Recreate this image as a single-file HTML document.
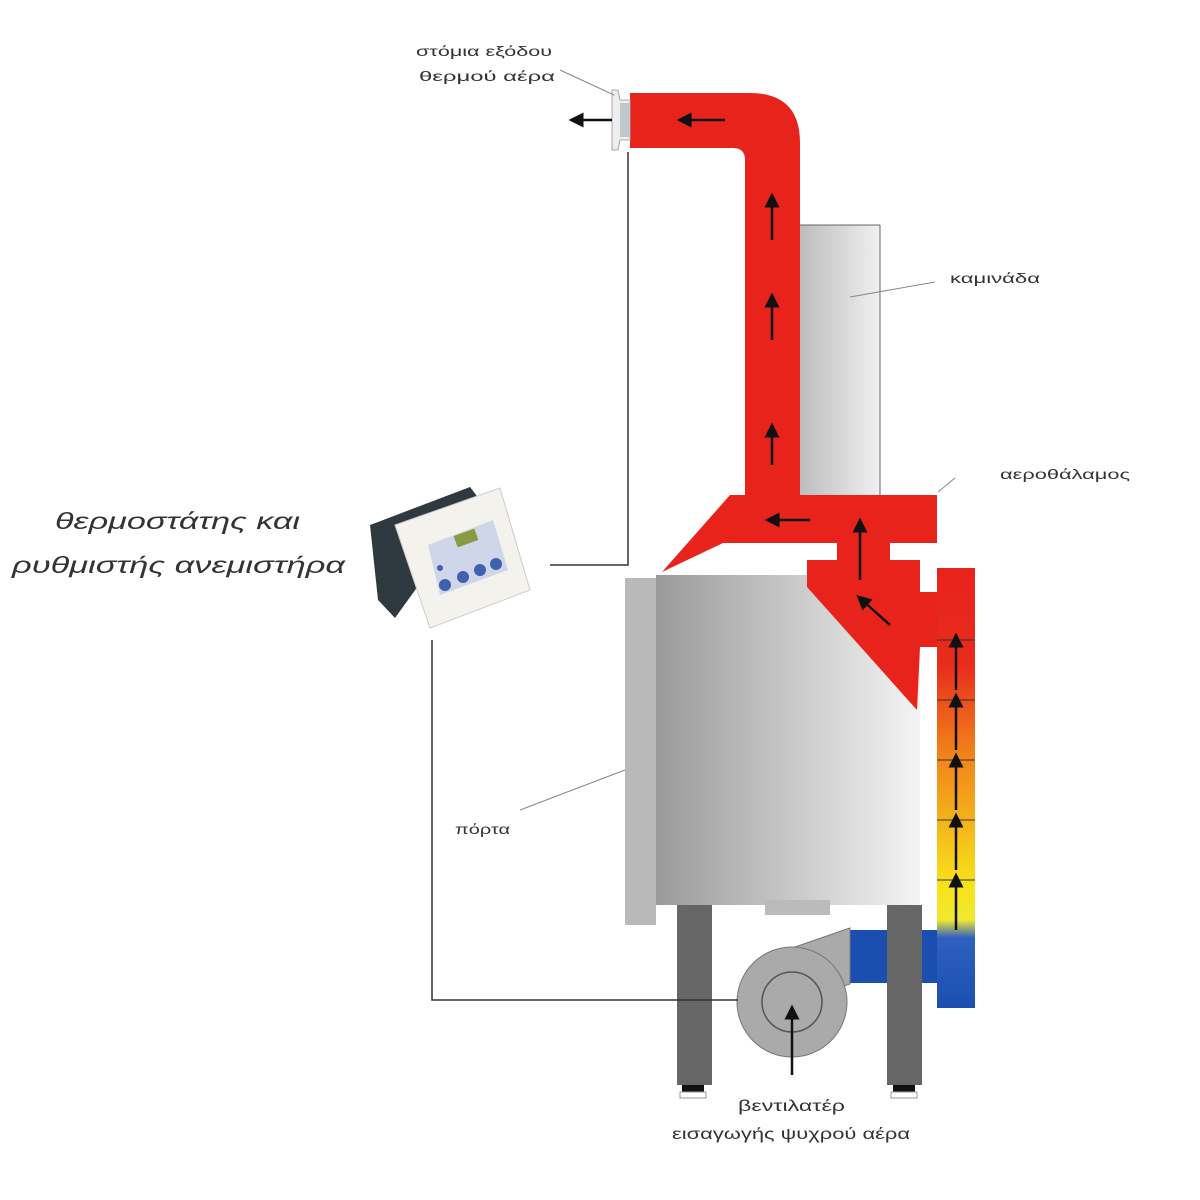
<!DOCTYPE html>
<html><head><meta charset="utf-8"><style>
html,body{margin:0;padding:0;background:#fff;}
svg{display:block}
text{font-family:"Liberation Sans","DejaVu Sans",sans-serif;fill:#333}
</style></head><body>
<svg width="1200" height="1200" viewBox="0 0 1200 1200" xmlns="http://www.w3.org/2000/svg">
<defs>
<linearGradient id="body" x1="0" x2="1" y1="0" y2="0">
<stop offset="0" stop-color="#9a9a9a"/><stop offset="0.6" stop-color="#d0d0d0"/><stop offset="1" stop-color="#f4f4f4"/></linearGradient>
<linearGradient id="chim" x1="0" x2="1" y1="0" y2="0">
<stop offset="0" stop-color="#bdbdbd"/><stop offset="1" stop-color="#f0f0f0"/></linearGradient>
<linearGradient id="pipe" x1="0" x2="0" y1="0" y2="1">
<stop offset="0" stop-color="#e8231c"/><stop offset="0.22" stop-color="#e82c1c"/><stop offset="0.4" stop-color="#f07a1a"/><stop offset="0.72" stop-color="#f8e21a"/><stop offset="0.8" stop-color="#f0e830"/><stop offset="0.84" stop-color="#3060c0"/><stop offset="1" stop-color="#1a4fb0"/></linearGradient>
<marker id="ah" markerWidth="6" markerHeight="6" refX="3" refY="3" orient="auto"><path d="M0,0 L6,3 L0,6 z" fill="#111"/></marker>
</defs>

<rect x="800" y="225" width="80" height="275" fill="url(#chim)"/>
<line x1="800" y1="225" x2="880" y2="225" stroke="#666" stroke-width="1"/>
<line x1="880" y1="225" x2="880" y2="500" stroke="#666" stroke-width="1"/>

<rect x="656" y="575" width="264" height="330" fill="url(#body)"/>
<rect x="625" y="578" width="31" height="347" fill="#b9b9b9"/>
<rect x="765" y="900" width="65" height="15" fill="#bbb"/>

<rect x="850" y="930" width="90" height="53" fill="#1a4fb0"/>

<rect x="677" y="905" width="35" height="180" fill="#666"/>
<rect x="887" y="905" width="35" height="180" fill="#666"/>
<rect x="682" y="1085" width="22" height="7" fill="#111"/>
<rect x="680" y="1092" width="26" height="6" fill="#fff" stroke="#999"/>
<rect x="893" y="1085" width="22" height="7" fill="#111"/>
<rect x="891" y="1092" width="26" height="6" fill="#fff" stroke="#999"/>

<polygon points="792,948 850,928 850,984 800,1000" fill="#aaa" stroke="#777"/>
<circle cx="792" cy="1002" r="55" fill="#aaa" stroke="#777"/>
<circle cx="792" cy="1002" r="30" fill="none" stroke="#555" stroke-width="1.5"/>
<line x1="792" y1="1075" x2="792" y2="1012" stroke="#111" stroke-width="2.5" marker-end="url(#ah)"/>

<rect x="937" y="568" width="38" height="440" fill="url(#pipe)"/>
<g stroke="#333" stroke-width="1">
<line x1="937" y1="640" x2="975" y2="640"/><line x1="937" y1="700" x2="975" y2="700"/>
<line x1="937" y1="760" x2="975" y2="760"/><line x1="937" y1="820" x2="975" y2="820"/>
<line x1="937" y1="880" x2="975" y2="880"/>
</g>
<g stroke="#111" stroke-width="2.5">
<line x1="956" y1="930" x2="956" y2="880" marker-end="url(#ah)"/>
<line x1="956" y1="870" x2="956" y2="820" marker-end="url(#ah)"/>
<line x1="956" y1="810" x2="956" y2="760" marker-end="url(#ah)"/>
<line x1="956" y1="750" x2="956" y2="700" marker-end="url(#ah)"/>
<line x1="956" y1="690" x2="956" y2="640" marker-end="url(#ah)"/>
</g>

<polygon fill="#e8231c" points="730,495 937,495 937,543 890,543 890,560 920,560 920,592 937,592 937,647 920,647 917,710 807,587 807,560 837,560 837,543 723,543 662,572"/>

<path d="M630,93 L750,93 Q800,93 800,143 L800,500 L745,500 L745,160 Q745,148 733,148 L630,148 Z" fill="#e8231c"/>
<path d="M612,90 L618,90 L620,100 L630,100 L630,140 L620,140 L618,150 L612,150 Z" fill="#eee" stroke="#aaa"/>
<rect x="620" y="103" width="10" height="34" fill="#bfc8cc"/>

<g stroke="#111" stroke-width="2.5">
<line x1="725" y1="120" x2="684" y2="120" marker-end="url(#ah)"/>
<line x1="612" y1="120" x2="576" y2="120" marker-end="url(#ah)"/>
<line x1="772" y1="240" x2="772" y2="200" marker-end="url(#ah)"/>
<line x1="772" y1="340" x2="772" y2="300" marker-end="url(#ah)"/>
<line x1="772" y1="465" x2="772" y2="430" marker-end="url(#ah)"/>
<line x1="810" y1="520" x2="772" y2="520" marker-end="url(#ah)"/>
<line x1="860" y1="580" x2="860" y2="525" marker-end="url(#ah)"/>
<line x1="890" y1="625" x2="862" y2="600" marker-end="url(#ah)"/>
</g>

<polyline points="550,565 628,565 628,152" fill="none" stroke="#333" stroke-width="1.5"/>
<polyline points="432,640 432,1000 738,1000" fill="none" stroke="#333" stroke-width="1.5"/>

<g stroke="#888" stroke-width="1">
<line x1="560" y1="70" x2="614" y2="95"/>
<line x1="850" y1="297" x2="935" y2="282"/>
<line x1="938" y1="492" x2="955" y2="478"/>
<line x1="520" y1="810" x2="625" y2="770"/>
</g>

<polygon points="370,525 470,487 480,500 395,618 378,600" fill="#2e3a40"/>
<polygon points="395,525 500,488 530,590 430,628" fill="#f4f2ec" stroke="#ccc"/>
<polygon points="428,545 493,520 508,570 440,595" fill="#cfd6ea"/>
<rect x="455" y="532" width="22" height="12" fill="#8a9a40" transform="rotate(-20 466 538)"/>
<g fill="#4060b0">
<circle cx="445" cy="585" r="6"/><circle cx="463" cy="577" r="6"/><circle cx="480" cy="570" r="6"/><circle cx="496" cy="564" r="6"/>
<circle cx="440" cy="568" r="3"/>
</g>

<g font-size="14" lengthAdjust="spacingAndGlyphs">
<text x="416" y="56" textLength="136" lengthAdjust="spacingAndGlyphs">στόμια εξόδου</text>
<text x="419" y="81" textLength="136" lengthAdjust="spacingAndGlyphs">θερμού αέρα</text>
<text x="950" y="283" textLength="90" lengthAdjust="spacingAndGlyphs">καμινάδα</text>
<text x="1000" y="479" textLength="130" lengthAdjust="spacingAndGlyphs">αεροθάλαμος</text>
<text x="455" y="834" textLength="55" lengthAdjust="spacingAndGlyphs">πόρτα</text>
<text x="738" y="1111" font-size="16" textLength="107" lengthAdjust="spacingAndGlyphs">βεντιλατέρ</text>
<text x="672" y="1139" font-size="16" textLength="238" lengthAdjust="spacingAndGlyphs">εισαγωγής ψυχρού αέρα</text>
</g>
<g font-size="23" font-style="italic" fill="#222">
<text x="55" y="529" textLength="245" lengthAdjust="spacingAndGlyphs">θερμοστάτης και</text>
<text x="12" y="573" textLength="333" lengthAdjust="spacingAndGlyphs">ρυθμιστής ανεμιστήρα</text>
</g>
</svg>
</body></html>
